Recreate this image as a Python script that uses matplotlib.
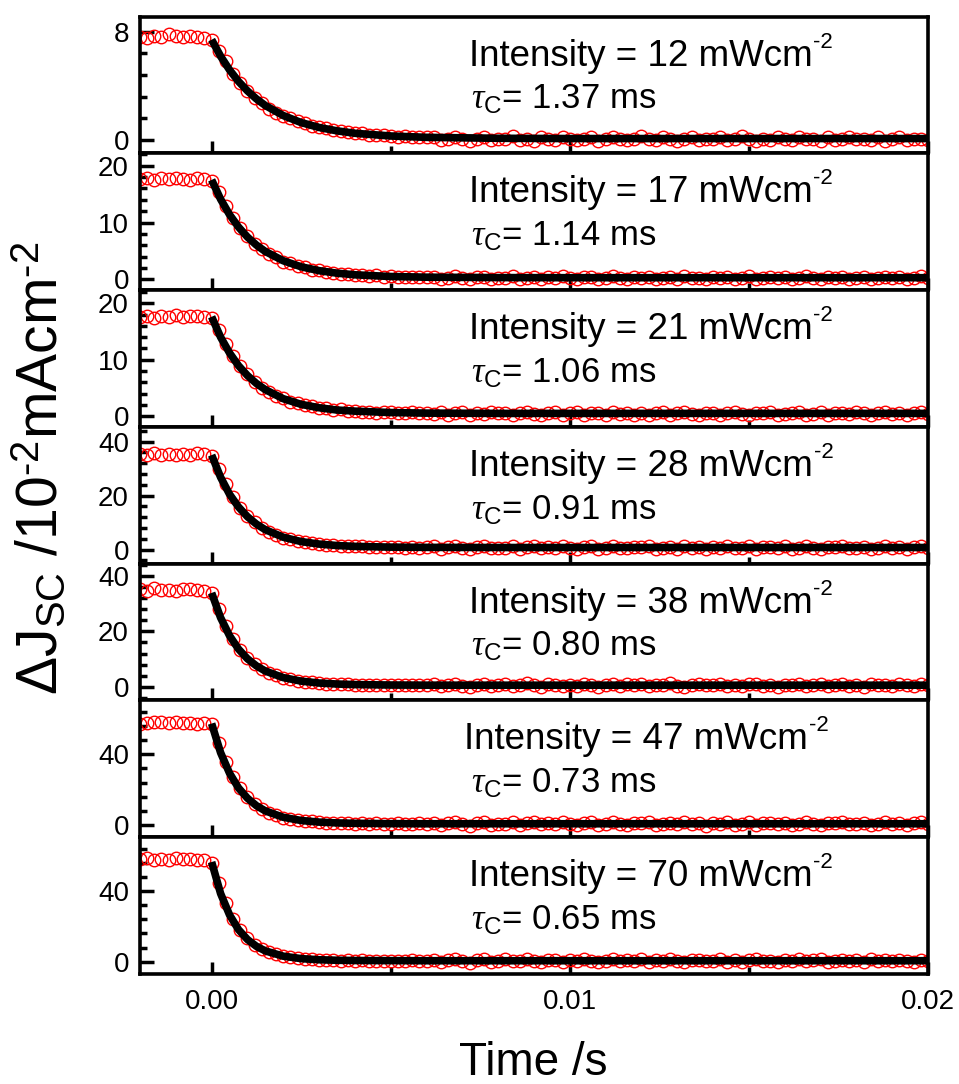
import numpy as np
import matplotlib
matplotlib.use("Agg")
import matplotlib.pyplot as plt
from matplotlib.ticker import MultipleLocator, FixedLocator
import matplotlib.transforms as mtransforms

plt.rcParams['font.family'] = ['Liberation Sans', 'DejaVu Sans']
plt.rcParams['mathtext.fontset'] = 'custom'
plt.rcParams['mathtext.rm'] = 'Liberation Sans'
plt.rcParams['mathtext.it'] = 'Liberation Serif:italic'
plt.rcParams['mathtext.bf'] = 'Liberation Sans:bold'

# ---------------- data ----------------
# sampling grid of the measured transients (ms)
time_ms = np.round(np.arange(-2.0, 20.0001, 0.2), 1)
fit_time_ms = [0, 0.25, 0.5, 0.75, 1.0, 1.25, 1.5, 2.0, 2.5, 3.0, 3.5, 4.0, 5.0, 6.0, 8.0, 10.0, 14.0, 20.0]

intensities = [12, 17, 21, 28, 38, 47, 70]
tau_c = ["1.37", "1.14", "1.06", "0.91", "0.80", "0.73", "0.65"]

j12 = [7.6, 7.5, 7.7, 7.6, 7.8, 7.7, 7.6, 7.7, 7.6, 7.55, 7.35,
       6.6, 5.8, 4.9, 4.2, 3.6, 3.1, 2.7, 2.3, 2.0, 1.75,
       1.6, 1.4, 1.25, 1.05, 0.95, 0.85, 0.7, 0.65, 0.6, 0.5,
       0.5, 0.4, 0.35, 0.35, 0.3, 0.25, 0.3, 0.2, 0.25, 0.2,
       0.2, 0.0, 0.1, 0.2, 0.1, -0.1, 0.1, 0.2, 0.0, 0.1,
       0.1, 0.3, 0.0, 0.1, -0.1, 0.2, 0.1, 0.0, 0.2, 0.1,
       0.0, 0.1, 0.2, -0.1, 0.1, 0.2, 0.1, 0.0, 0.1, 0.3,
       0.1, 0.0, 0.2, 0.1, -0.1, 0.1, 0.2, 0.0, 0.1, 0.1,
       0.2, 0.0, 0.1, 0.3, 0.1, -0.1, 0.1, 0.0, 0.2, 0.1,
       0.0, 0.2, 0.1, 0.1, -0.1, 0.2, 0.0, 0.1, 0.2, 0.1,
       0.1, 0.0, 0.2, -0.1, 0.1, 0.2, 0.0, 0.1, 0.1, 0.0]
j17 = [17.6, 17.9, 17.5, 17.8, 17.6, 17.9, 17.7, 17.5, 17.8, 17.6, 17.3,
       15.3, 12.9, 10.8, 9.1, 7.6, 6.2, 5.4, 4.4, 3.9, 3.1,
       2.9, 2.3, 2.1, 1.7, 1.6, 1.3, 1.2, 1.0, 0.9, 0.8,
       0.8, 0.6, 0.7, 0.5, 0.6, 0.4, 0.5, 0.4, 0.5, 0.4,
       0.4, 0.1, 0.3, 0.6, 0.2, 0.0, 0.4, 0.5, 0.1, 0.3,
       0.2, 0.6, 0.0, 0.3, 0.5, 0.1, 0.4, 0.2, 0.6, 0.3,
       0.0, 0.4, 0.5, 0.1, 0.3, 0.6, 0.2, 0.1, 0.4, 0.3,
       0.5, 0.0, 0.3, 0.4, 0.1, 0.6, 0.2, 0.3, 0.0, 0.4,
       0.3, 0.5, 0.1, 0.2, 0.6, 0.0, 0.3, 0.4, 0.2, 0.5,
       0.1, 0.3, 0.6, 0.2, 0.0, 0.4, 0.3, 0.5, 0.1, 0.2,
       0.4, 0.0, 0.3, 0.5, 0.2, 0.4, 0.1, 0.3, 0.6, 0.2]
j21 = [17.5, 17.8, 17.4, 17.7, 17.6, 17.9, 17.5, 17.7, 17.8, 17.6, 17.4,
       15.2, 12.8, 10.7, 8.9, 7.4, 6.1, 5.0, 4.3, 3.5, 3.2,
       2.6, 2.3, 2.0, 1.8, 1.5, 1.4, 1.1, 1.2, 0.9, 1.0,
       0.8, 0.8, 0.6, 0.7, 0.7, 0.5, 0.6, 0.7, 0.5, 0.6,
       0.4, 0.8, 0.2, 0.5, 0.7, 0.3, 0.6, 0.4, 0.8, 0.5,
       0.6, 0.3, 0.5, 0.8, 0.4, 0.2, 0.6, 0.7, 0.3, 0.5,
       0.7, 0.2, 0.5, 0.6, 0.3, 0.8, 0.4, 0.5, 0.2, 0.6,
       0.2, 0.6, 0.7, 0.3, 0.5, 0.8, 0.4, 0.3, 0.6, 0.5,
       0.3, 0.5, 0.8, 0.4, 0.2, 0.6, 0.5, 0.7, 0.3, 0.4,
       0.5, 0.7, 0.3, 0.4, 0.8, 0.2, 0.5, 0.6, 0.4, 0.7,
       0.6, 0.2, 0.5, 0.7, 0.4, 0.6, 0.3, 0.5, 0.8, 0.4]
j28 = [35.3, 35.0, 35.6, 35.1, 35.4, 34.9, 35.5, 35.2, 35.6, 35.3, 34.8,
       29.8, 24.2, 19.4, 15.6, 12.6, 10.1, 8.2, 6.6, 5.6, 4.5,
       3.9, 3.3, 2.7, 2.4, 2.1, 1.8, 1.7, 1.4, 1.3, 1.2,
       1.2, 1.0, 1.1, 0.9, 1.0, 0.9, 0.8, 0.9, 0.8, 0.9,
       1.2, 0.4, 0.9, 1.4, 0.6, 0.2, 1.0, 1.3, 0.5, 0.8,
       0.6, 1.4, 0.3, 0.9, 1.2, 0.5, 1.1, 0.7, 1.5, 0.8,
       0.2, 1.0, 1.3, 0.4, 0.8, 1.4, 0.6, 0.5, 1.1, 0.9,
       1.3, 0.3, 0.8, 1.0, 0.4, 1.5, 0.7, 0.9, 0.2, 1.0,
       0.8, 1.2, 0.5, 0.6, 1.4, 0.3, 0.9, 1.1, 0.6, 1.2,
       0.4, 0.8, 1.5, 0.6, 0.2, 1.0, 0.9, 1.3, 0.5, 0.7,
       1.1, 0.3, 0.8, 1.2, 0.6, 1.0, 0.4, 0.9, 1.4, 0.6]
j38 = [35.2, 34.6, 35.4, 34.8, 35.0, 34.5, 35.3, 35.1, 34.9, 34.6, 33.9,
       28.0, 22.0, 17.1, 13.4, 10.5, 8.2, 6.5, 5.0, 4.2, 3.3,
       2.8, 2.2, 1.9, 1.7, 1.4, 1.1, 1.1, 1.0, 0.9, 0.7,
       0.8, 0.6, 0.8, 0.6, 0.7, 0.5, 0.7, 0.6, 0.5, 0.7,
       0.9, 0.2, 0.7, 1.2, 0.4, 0.0, 0.8, 1.1, 0.3, 0.6,
       1.0, 0.3, 0.6, 1.3, 0.5, 0.1, 0.9, 0.7, 0.2, 0.8,
       0.4, 1.2, 0.6, 0.0, 0.7, 1.0, 0.3, 0.9, 0.5, 1.1,
       0.2, 0.8, 0.6, 1.3, 0.4, 0.1, 0.7, 1.0, 0.5, 0.6,
       1.1, 0.3, 0.8, 0.2, 0.9, 1.2, 0.4, 0.6, 0.0, 0.7,
       0.5, 1.0, 0.3, 0.8, 1.2, 0.2, 0.6, 0.9, 0.4, 0.7,
       0.1, 1.1, 0.5, 0.8, 0.3, 1.0, 0.6, 0.2, 0.9, 0.5]
j47 = [56.8, 57.5, 58.2, 57.9, 57.6, 58.0, 57.4, 57.7, 57.2, 57.5, 56.8,
       46.5, 35.8, 27.2, 20.8, 15.9, 12.1, 9.2, 7.0, 5.7, 4.3,
       3.6, 3.0, 2.3, 2.1, 1.8, 1.4, 1.4, 1.1, 1.2, 0.9,
       1.0, 0.8, 1.1, 0.7, 0.9, 1.0, 0.7, 0.9, 1.0, 0.8,
       1.5, 0.2, 1.0, 1.9, 0.5, -0.2, 1.2, 1.7, 0.3, 0.9,
       0.6, 1.8, 0.0, 1.1, 1.6, 0.4, 1.3, 0.7, 2.0, 0.8,
       -0.1, 1.2, 1.6, 0.3, 0.9, 1.8, 0.5, 0.2, 1.4, 1.0,
       1.7, 0.1, 0.8, 1.3, 0.4, 1.9, 0.6, 1.0, -0.2, 1.2,
       0.8, 1.6, 0.3, 0.5, 1.8, 0.0, 1.1, 1.4, 0.6, 1.5,
       0.2, 0.9, 2.0, 0.5, -0.1, 1.2, 1.0, 1.7, 0.4, 0.7,
       1.4, 0.1, 0.9, 1.6, 0.5, 1.2, 0.3, 1.0, 1.8, 0.6]
j70 = [57.9, 58.4, 57.6, 58.2, 57.8, 58.5, 57.9, 58.1, 57.7, 57.3, 56.0,
       44.5, 33.0, 24.2, 17.8, 13.2, 9.7, 7.2, 5.3, 4.2, 3.1,
       2.6, 2.0, 1.5, 1.4, 1.2, 0.9, 1.0, 0.7, 0.8, 0.6,
       0.8, 0.5, 0.7, 0.6, 0.4, 0.7, 0.6, 0.8, 0.5, 0.6,
       1.2, 0.0, 0.8, 1.7, 0.3, -0.4, 1.0, 1.5, 0.1, 0.7,
       1.4, 0.2, 0.6, 1.8, 0.4, -0.3, 1.1, 0.8, 0.0, 0.9,
       0.3, 1.6, 0.5, -0.2, 0.7, 1.3, 0.2, 1.0, 0.4, 1.5,
       -0.1, 0.9, 0.6, 1.7, 0.3, 0.0, 0.8, 1.2, 0.5, 0.6,
       1.4, 0.1, 1.0, -0.3, 0.9, 1.6, 0.2, 0.7, -0.1, 0.8,
       0.5, 1.3, 0.2, 0.9, 1.6, -0.2, 0.6, 1.1, 0.3, 0.8,
       0.0, 1.4, 0.4, 1.0, 0.2, 1.2, 0.6, -0.1, 1.1, 0.5]

fit12 = [7.40, 6.18, 5.17, 4.32, 3.62, 3.03, 2.54, 1.80, 1.28, 0.92, 0.67, 0.49, 0.29, 0.19, 0.12, 0.10, 0.10, 0.10]
fit17 = [17.5, 14.11, 11.39, 9.21, 7.45, 6.04, 4.91, 3.28, 2.22, 1.54, 1.10, 0.81, 0.51, 0.39, 0.32, 0.30, 0.30, 0.30]
fit21 = [17.6, 14.0, 11.2, 8.95, 7.2, 5.8, 4.7, 3.1, 2.1, 1.5, 1.1, 0.9, 0.65, 0.55, 0.5, 0.5, 0.5, 0.5]
fit28 = [35.0, 26.8, 20.5, 15.8, 12.2, 9.46, 7.38, 4.6, 2.99, 2.07, 1.53, 1.22, 0.94, 0.85, 0.8, 0.8, 0.8, 0.8]
fit38 = [33.8, 24.9, 18.4, 13.6, 10.1, 7.56, 5.69, 3.33, 2.06, 1.38, 1.02, 0.82, 0.66, 0.61, 0.6, 0.6, 0.6, 0.6]
fit47 = [57.3, 40.9, 29.3, 21.0, 15.2, 11.0, 8.04, 4.45, 2.64, 1.73, 1.27, 1.04, 0.86, 0.8, 0.8, 0.8, 0.8, 0.8]
fit70 = [56.4, 38.6, 26.5, 18.2, 12.6, 8.75, 6.15, 3.17, 1.79, 1.15, 0.86, 0.72, 0.65, 0.6, 0.6, 0.6, 0.6, 0.6]

data_sets = [j12, j17, j21, j28, j38, j47, j70]
fit_sets = [fit12, fit17, fit21, fit28, fit38, fit47, fit70]

# axis settings per panel
ylims = [(-1.0, 9.1), (-1.9, 22.15), (-1.9, 22.3), (-5.2, 45.4), (-4.9, 44.3), (-6.8, 70.3), (-6.9, 70.4)]
ymajor = [8, 10, 10, 20, 20, 40, 40]
yminor = [1.6, 2, 2, 4, 4, 8, 8]
text_x = [0.00718, 0.00718, 0.00718, 0.00718, 0.00718, 0.00704, 0.00718]

# ---------------- figure ----------------
W, H = 959, 1084
fig = plt.figure(figsize=(W / 100, H / 100), dpi=100)
left, right = 140 / W, 928 / W
top, bottom = 1 - 16.7 / H, 1 - 974 / H
gs = fig.add_gridspec(7, 1, left=left, right=right, top=top, bottom=bottom, hspace=0)

t_s = time_ms / 1000.0
tf_s = np.array(fit_time_ms) / 1000.0

TXT1 = 26.5
TXT2 = 25
main_texts = []
axes = []
for i in range(7):
    ax = fig.add_subplot(gs[i, 0])
    axes.append(ax)
    ax.plot(t_s, data_sets[i], linestyle='none', marker='o', markersize=9,
            markerfacecolor='none', markeredgecolor='#ff0000', markeredgewidth=1.0, zorder=2)
    ax.plot(tf_s, fit_sets[i], color='black', linewidth=5.5, solid_joinstyle='round',
            solid_capstyle='butt', zorder=3)
    ax.set_xlim(-0.002, 0.02)
    ax.set_ylim(*ylims[i])
    ax.yaxis.set_major_locator(MultipleLocator(ymajor[i]))
    ax.yaxis.set_minor_locator(MultipleLocator(yminor[i]))
    ax.xaxis.set_major_locator(FixedLocator([0.0, 0.01, 0.02]))
    ax.xaxis.set_minor_locator(FixedLocator([0.005, 0.015]))
    ax.tick_params(axis='both', which='both', direction='in', width=2.5, top=False, right=False)
    ax.tick_params(axis='y', which='major', length=10, labelsize=20, pad=8)
    ax.tick_params(axis='y', which='minor', length=5)
    ax.tick_params(axis='x', which='major', length=9, labelsize=20, pad=11)
    ax.tick_params(axis='x', which='minor', length=5)
    for sp in ax.spines.values():
        sp.set_linewidth(2.6)
    if i < 6:
        ax.tick_params(axis='x', which='both', labelbottom=False)
    else:
        ax.set_xticklabels(['0.00', '0.01', '0.02'])
    trans = mtransforms.blended_transform_factory(ax.transData, ax.transAxes)
    t1 = ax.text(text_x[i], 0.642, 'Intensity = %d mWcm' % intensities[i],
                 transform=trans, fontsize=TXT1, ha='left', va='baseline')
    main_texts.append((ax, t1))
    ax.text(0.00723, 0.323, r'$\tau_{\mathrm{C}}$= %s ms' % tau_c[i],
            transform=trans, fontsize=TXT2, ha='left', va='baseline')

# superscripts "-2" as small raised text right after each intensity string
fig.canvas.draw()
renderer = fig.canvas.get_renderer()
for ax, t1 in main_texts:
    bb = t1.get_window_extent(renderer)
    x_fig = bb.x1 / fig.bbox.width + 1.0 / W
    base = ax.transAxes.transform((0, 0.642))[1] / fig.bbox.height
    fig.text(x_fig, base + 18.0 / H, '-2', fontsize=16, ha='left', va='baseline')

fig.text(40 / W, 1 - 468 / H, r'$\Delta$J$_{\mathrm{SC}}$ /10$^{\text{-2}}$mAcm$^{\text{-2}}$',
         rotation=90, fontsize=41, ha='center', va='center')
fig.text(533 / W, 1 - 1075 / H, 'Time /s', fontsize=33, ha='center', va='baseline')

fig.savefig('out.png', dpi=100)
